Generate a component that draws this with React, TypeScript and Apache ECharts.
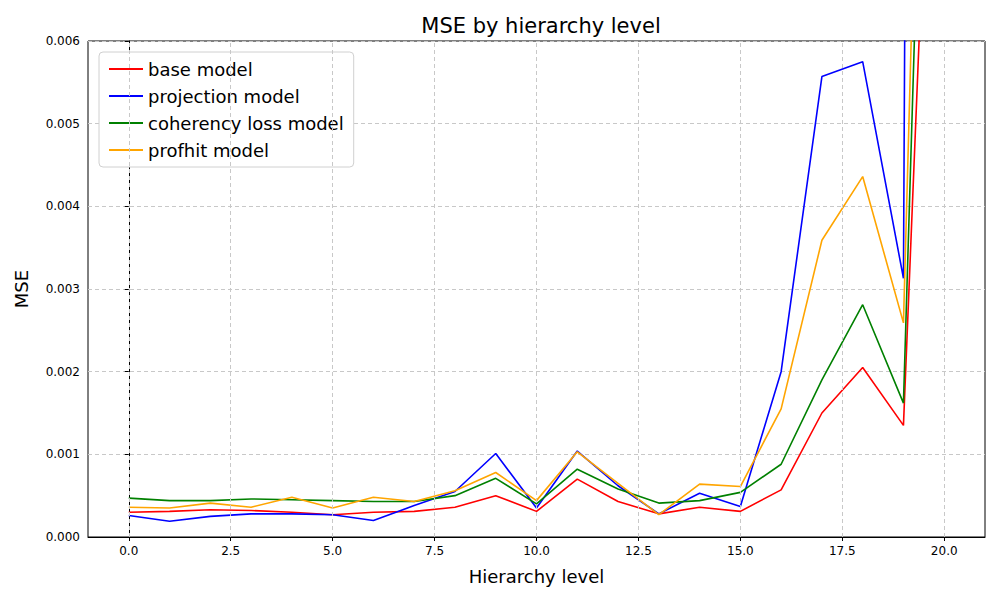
import { useEffect, useRef } from 'react';
import * as echarts from 'echarts';

const levels = [0, 1, 2, 3, 4, 5, 6, 7, 8, 9, 10, 11, 12, 13, 14, 15, 16, 17, 18, 19, 20];
const xTicks = [0, 2.5, 5, 7.5, 10, 12.5, 15, 17.5, 20];
const baseModel = [0.0003, 0.00031, 0.00033, 0.00032, 0.0003, 0.00027, 0.0003, 0.00031, 0.00036, 0.0005, 0.00031, 0.0007, 0.00043, 0.00028, 0.00036, 0.00031, 0.00057, 0.0015, 0.00205, 0.00135, 0.0135];
const projectionModel = [0.00026, 0.00019, 0.00025, 0.00028, 0.00028, 0.00027, 0.0002, 0.00038, 0.00055, 0.00101, 0.00035, 0.00104, 0.00062, 0.00028, 0.00053, 0.00037, 0.002, 0.00557, 0.00575, 0.00313, 0.1];
const coherencyModel = [0.00047, 0.00044, 0.00044, 0.00046, 0.00045, 0.00044, 0.00043, 0.00043, 0.0005, 0.00071, 0.0004, 0.00082, 0.00058, 0.00041, 0.00044, 0.00054, 0.00088, 0.0019, 0.00281, 0.00162, 0.018];
const profhitModel = [0.00036, 0.00035, 0.00041, 0.00036, 0.00048, 0.00035, 0.00048, 0.00043, 0.00056, 0.00078, 0.00044, 0.00103, 0.00065, 0.00027, 0.00064, 0.00061, 0.00155, 0.00359, 0.00436, 0.00259, 0.0206];

const SERIES = [
  { name: 'base model', color: '#ff0000', values: baseModel },
  { name: 'projection model', color: '#0000ff', values: projectionModel },
  { name: 'coherency loss model', color: '#008000', values: coherencyModel },
  { name: 'profhit model', color: '#ffa500', values: profhitModel },
];

const FONT = 'DejaVu Sans';

export default function App() {
  const ref = useRef<HTMLDivElement>(null);

  useEffect(() => {
    if (!ref.current) return;
    const chart = echarts.init(ref.current, null, { renderer: 'svg' });
    const gridStyle = { color: '#c8c8c8', type: [4, 3], width: 1 };
    chart.setOption({
      animation: false,
      backgroundColor: '#fff',
      textStyle: { fontFamily: FONT },
      title: {
        text: 'MSE by hierarchy level',
        left: 536,
        textAlign: 'center',
        top: 10,
        textStyle: { fontFamily: FONT, fontSize: 21, fontWeight: 'normal', color: '#000' },
      },
      grid: { left: 88, right: 15, top: 41, bottom: 63, show: true, borderColor: '#000', borderWidth: 1 },
      legend: {
        orient: 'vertical',
        left: 99,
        top: 52,
        padding: [8, 10, 8, 10],
        itemGap: 9,
        itemWidth: 34,
        itemHeight: 2,
        icon: 'rect',
        backgroundColor: '#fff',
        borderColor: '#d0d0d0',
        borderWidth: 1,
        borderRadius: 4,
        textStyle: { fontFamily: FONT, fontSize: 18, color: '#000' },
        data: SERIES.map((s) => s.name),
      },
      xAxis: {
        type: 'value',
        min: -1,
        max: 21,
        name: 'Hierarchy level',
        nameLocation: 'middle',
        nameGap: 30,
        nameTextStyle: { fontFamily: FONT, fontSize: 18, color: '#000' },
        axisLine: { lineStyle: { color: '#000' } },
        axisTick: { lineStyle: { color: '#000' }, length: 4, customValues: xTicks },
        axisLabel: { color: '#000', fontSize: 12, fontFamily: FONT, customValues: xTicks, formatter: (v: number) => v.toFixed(1) },
        splitLine: { show: false },
      },
      yAxis: {
        type: 'value',
        min: 0,
        max: 0.006,
        interval: 0.001,
        name: 'MSE',
        nameLocation: 'middle',
        nameGap: 58,
        nameTextStyle: { fontFamily: FONT, fontSize: 18, color: '#000' },
        axisLine: { show: true, lineStyle: { color: '#000' } },
        axisTick: { show: true, lineStyle: { color: '#000' }, length: 4 },
        axisLabel: { color: '#000', fontSize: 12, fontFamily: FONT, formatter: (v: number) => v.toFixed(3) },
        splitLine: { show: true, lineStyle: gridStyle },
      },
      series: [
        {
          type: 'line',
          data: [],
          silent: true,
          markLine: {
            silent: true,
            symbol: 'none',
            label: { show: false },
            lineStyle: gridStyle,
            data: xTicks.map((x) => ({ xAxis: x })),
          },
        },
        ...SERIES.map((s) => ({
          name: s.name,
          type: 'line',
          data: levels.map((x, i) => [x, s.values[i]]),
          symbol: 'none',
          clip: true,
          color: s.color,
          lineStyle: { color: s.color, width: 1.6 },
        })),
      ],
    });
    return () => chart.dispose();
  }, []);

  return <div ref={ref} style={{ width: 1000, height: 600, margin: -8 }} />;
}
